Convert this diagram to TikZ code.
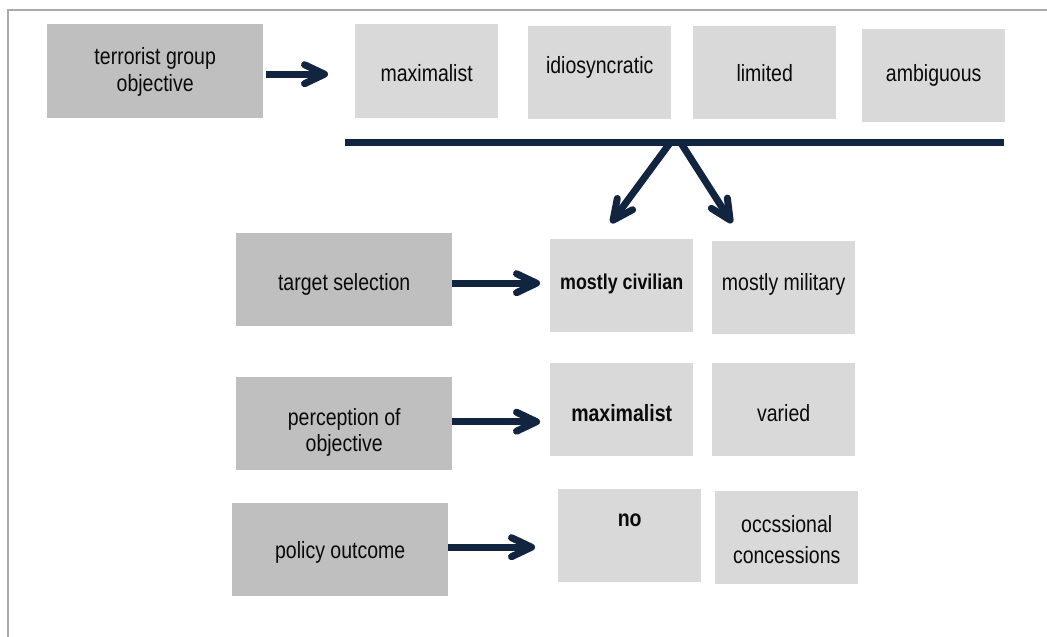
\documentclass[tikz,border=0pt]{standalone}
\usepackage{fontspec}
\setmainfont{Liberation Sans}[FakeStretch=0.83]
\usetikzlibrary{arrows.meta}
\definecolor{navy}{RGB}{17,36,64}
\definecolor{darkbox}{RGB}{191,191,191}
\definecolor{lightbox}{RGB}{217,217,217}
\definecolor{framegray}{RGB}{170,170,170}
\definecolor{ink}{RGB}{10,10,10}
\begin{document}
\begin{tikzpicture}[x=1pt,y=-1pt,
  box/.style={rectangle, inner sep=0pt, anchor=north west,
    minimum width=143pt, minimum height=93pt, fill=lightbox, text=ink,
    font=\fontsize{23.5}{27}\selectfont, text height=18pt, text depth=1.4pt},
  dbox/.style={box, fill=darkbox, minimum width=216pt},
  twoline/.style={align=center, text height=, text depth=},
  boldtxt/.style={font=\fontsize{23.5}{27}\selectfont\bfseries},
  barstyle/.style={rectangle, inner sep=0pt, anchor=north west, fill=navy,
    minimum width=659pt, minimum height=7pt},
  arr/.style={draw=navy, line width=7pt,
    -{Straight Barb[length=20pt,width=19pt,round]}},
  frame/.style={draw=framegray, line width=1.5pt}
]
\useasboundingbox (0,0) rectangle (1047,637);
\draw[frame] (8,637) -- (8,10) -- (1047,10);

% top row
\node[dbox, twoline, minimum height=94pt, text height=46pt] (obj) at (47,24) {terrorist group\\objective};
\node[box, minimum height=94pt, text height=22pt] (max) at (355,24) {maximalist};
\node[box, text depth=16.4pt] (idi) at (528,26) {idiosyncratic};
\node[box] (lim) at (693,26) {limited};
\node[box, text depth=7.4pt] (amb) at (862,29) {ambiguous};
\node[barstyle] (bar) at (345,139) {};

% second row
\node[dbox, text height=22pt] (ts) at (236,233) {target selection};
\node[box, font=\fontsize{21.5}{25}\selectfont\bfseries, text depth=10.4pt] (civ) at (550,239) {mostly civilian};
\node[box, text depth=12.4pt] (mil) at (712,241) {mostly military};

% third row
\node[dbox, twoline, font=\fontsize{23.5}{26}\selectfont, text height=60pt] (per) at (236,377) {perception of\\objective};
\node[box, boldtxt, text height=24pt] (max2) at (550,363) {maximalist};
\node[box, text height=24pt] (var) at (712,363) {varied};

% fourth row
\node[dbox] (pol) at (232,503) {policy outcome};
\node[box, boldtxt, text depth=37.4pt] (no) at (558,489) {no};
\node[box, twoline, font=\fontsize{23.5}{31}\selectfont, text height=52.5pt] (occ) at (715,491) {occssional\\concessions};

% connectors
\draw[arr, shorten <=3pt, shorten >=27pt] ([yshift=-3pt]obj.east) -- ([yshift=-3pt]obj.east -| max.west);
\coordinate (tipL) at (611,223);
\coordinate (tipR) at (732,223);
\draw[arr] ([xshift=-4.5pt]bar.center) -- (tipL);
\draw[arr] ([xshift=6pt]bar.center) -- (tipR);
\draw[arr, shorten >=10pt] ([yshift=-3.5pt]ts.east) -- ([yshift=-3.5pt]ts.east -| civ.west);
\draw[arr, shorten >=10pt] ([yshift=2pt]per.east) -- ([yshift=2pt]per.east -| max2.west);
\draw[arr, shorten >=23pt] ([yshift=2.5pt]pol.east) -- ([yshift=2.5pt]pol.east -| no.west);
\end{tikzpicture}
\end{document}
